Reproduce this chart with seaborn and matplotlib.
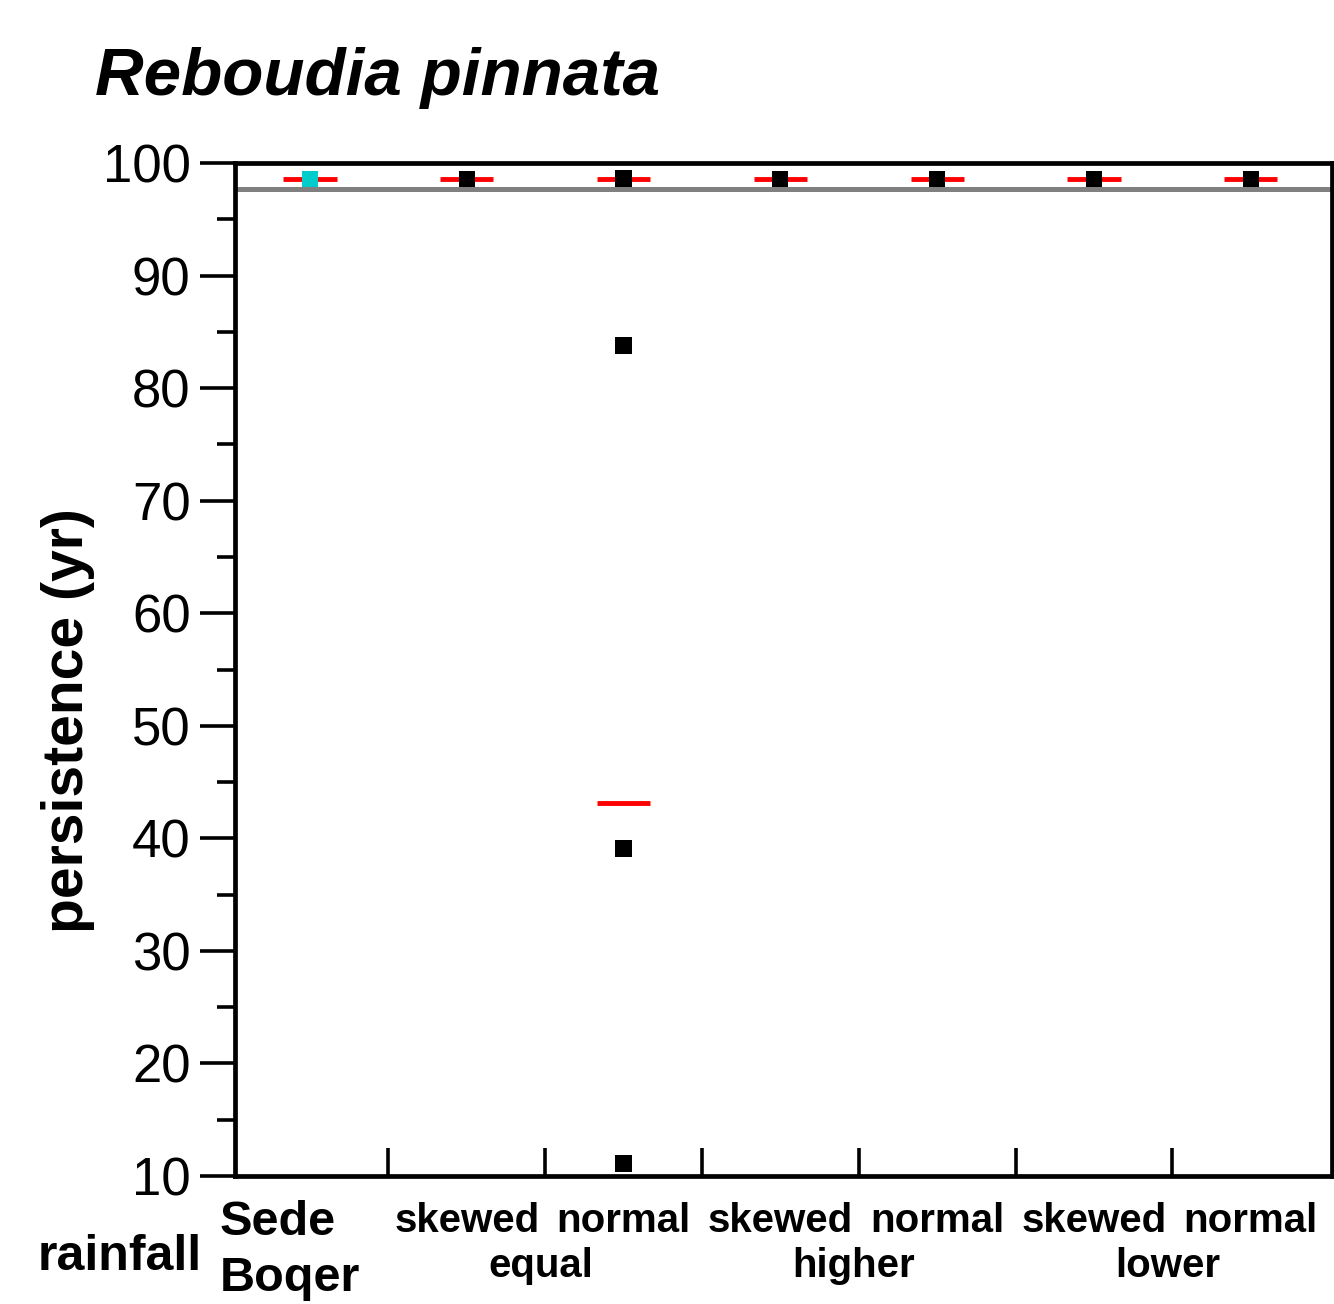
import matplotlib
matplotlib.use("Agg")
import matplotlib.pyplot as plt
import numpy as np
import pandas as pd
import seaborn as sns

# persistence of Reboudia pinnata under the rainfall scenarios

scenarios = ["Sede Boqer", "equal skewed", "equal normal", "higher skewed",
             "higher normal", "lower skewed", "lower normal"]
scenario_of_point = ["Sede Boqer", "equal skewed", "equal normal", "equal normal",
                     "equal normal", "equal normal", "higher skewed",
                     "higher normal", "lower skewed", "lower normal"]
persistence = [98.6, 98.6, 98.6, 83.8, 39.1, 11.1, 98.6, 98.6, 98.6, 98.6]
source = ["observed", "model", "model", "model", "model", "model", "model",
          "model", "model", "model"]

# red dashes (means)
scenario_of_mean = ["Sede Boqer", "equal skewed", "equal normal", "equal normal",
                    "higher skewed", "higher normal", "lower skewed", "lower normal"]
mean_persistence = [98.6, 98.6, 98.6, 43.1, 98.6, 98.6, 98.6, 98.6]
reference_level = 97.65

distribution_labels = ["skewed", "normal", "skewed", "normal", "skewed", "normal"]
group_labels = ["equal", "higher", "lower"]

FONT = ["Liberation Sans", "DejaVu Sans"]


def main():
    sns.set_style("ticks")
    plt.rcParams["font.family"] = FONT
    plt.rcParams["text.color"] = "black"
    plt.rcParams["axes.labelcolor"] = "black"
    plt.rcParams["xtick.color"] = "black"
    plt.rcParams["ytick.color"] = "black"

    df = pd.DataFrame({"scenario": scenario_of_point,
                       "persistence": persistence,
                       "source": source})

    fig = plt.figure(figsize=(13.34, 13.04), dpi=100)
    ax = fig.add_axes([235 / 1334, 1 - 1176 / 1304, 1097 / 1334, 1013 / 1304])

    ax.axhline(reference_level, color="#808080", lw=3.6, zorder=1)

    xpos = np.arange(len(scenarios))
    mean_x = np.array([scenarios.index(s) for s in scenario_of_mean])
    ax.hlines(mean_persistence, mean_x - 0.17, mean_x + 0.17, color="red", lw=3.5,
              zorder=2)

    sns.stripplot(data=df, x="scenario", y="persistence", hue="source",
                  order=scenarios, palette={"observed": "#00CCCC", "model": "black"},
                  marker="s", size=12, jitter=False, linewidth=0, legend=False,
                  ax=ax, zorder=3)

    ax.set_xlim(-0.478, 6.518)
    ax.set_ylim(10, 100)
    ax.set_yticks(range(10, 101, 10))
    ax.yaxis.set_minor_locator(matplotlib.ticker.MultipleLocator(5))
    ax.tick_params(axis="y", which="major", direction="out", length=25, width=2.6,
                   labelsize=38, pad=7, colors="black")
    ax.tick_params(axis="y", which="minor", direction="out", length=13, width=2.6)
    ax.set_xticks(np.arange(0.5, len(scenarios) - 1, 1.0))
    ax.set_xticklabels([])
    ax.tick_params(axis="x", which="major", direction="in", length=20, width=2.6,
                   bottom=True, top=False)
    ax.set_xlabel("")

    for s in ax.spines.values():
        s.set_visible(True)
        s.set_linewidth(3.4)
        s.set_color("black")

    ax.set_ylabel("persistence (yr)", fontsize=41, fontweight="bold")
    ax.yaxis.set_label_coords(-0.128, 0.45)

    tr = ax.get_xaxis_transform()
    for i, lab in enumerate(distribution_labels):
        ax.text(xpos[i + 1], -0.0553, lab, transform=tr, ha="center",
                va="baseline", fontsize=29, fontweight="bold")
    for g, lab in enumerate(group_labels):
        ax.text((xpos[2 * g + 1] + xpos[2 * g + 2]) / 2 - 0.03, -0.0997, lab,
                transform=tr, ha="center", va="baseline", fontsize=29,
                fontweight="bold")
    ax.text(-0.574, -0.0582, "Sede", transform=tr, ha="left", va="baseline",
            fontsize=35, fontweight="bold")
    ax.text(-0.574, -0.1135, "Boqer", transform=tr, ha="left", va="baseline",
            fontsize=35, fontweight="bold")
    ax.text(-0.689, -0.0928, "rainfall", transform=tr, ha="right", va="baseline",
            fontsize=36, fontweight="bold")

    fig.text(95 / 1334, 1 - 95 / 1304, "Reboudia pinnata", ha="left", va="baseline",
             fontsize=48.5, fontweight="bold", fontstyle="italic")

    fig.savefig("out.png", dpi=100)


if __name__ == "__main__":
    main()
